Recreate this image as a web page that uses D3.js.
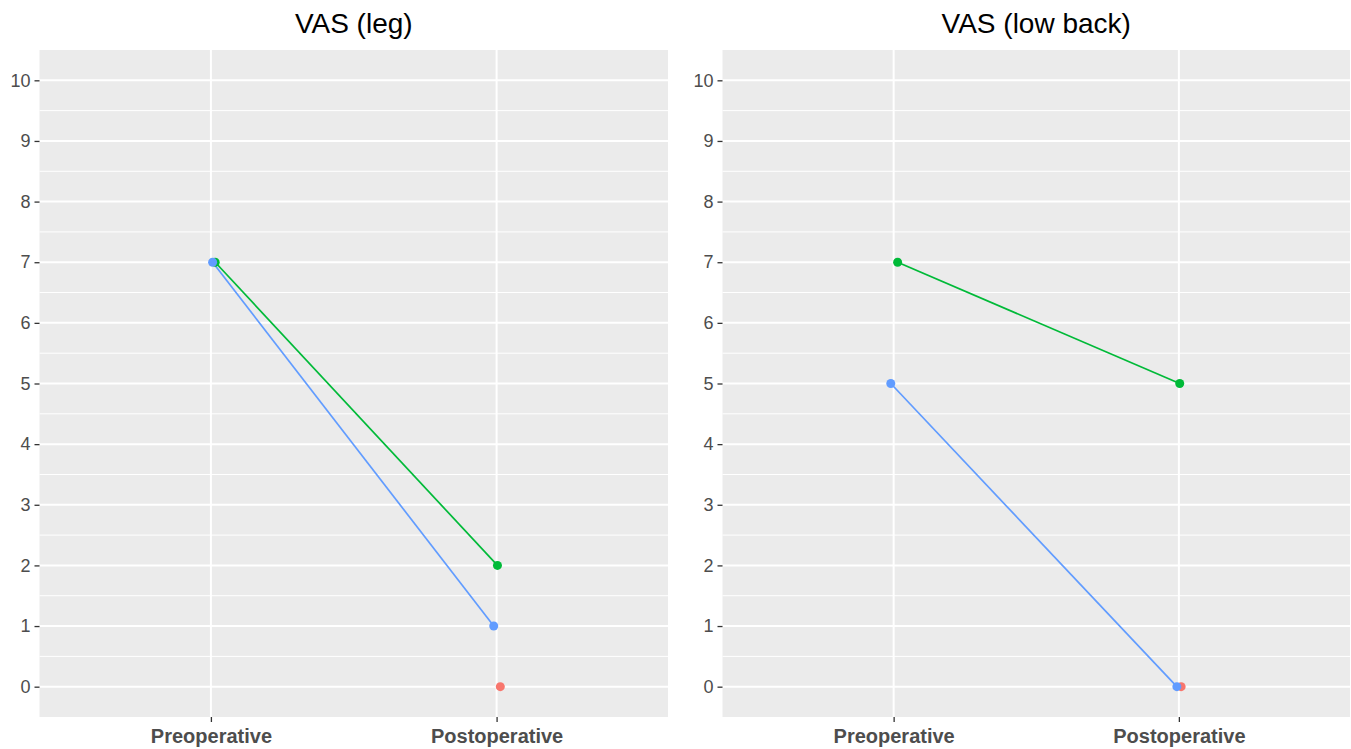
<!DOCTYPE html>
<html>
<head>
<meta charset="utf-8">
<script src="https://cdn.jsdelivr.net/npm/d3@7"></script>
<style>
    body { margin: 0; background: #fff; }
    text { font-family: "Liberation Sans", Arial, sans-serif; }
</style>
</head>
<body>
<div id="chart"></div>
<script>
// data
const timepoints = ['Preoperative', 'Postoperative'];
const subjects = ['A', 'B', 'C'];
const subjectColors = ['#F8766D', '#00BA38', '#619CFF'];
const yTicks = [0, 1, 2, 3, 4, 5, 6, 7, 8, 9, 10];

const panelTitles = ['VAS (leg)', 'VAS (low back)'];
// values per subject: [pre, post], null = missing
const legValues = [[null, 0], [7, 2], [7, 1]];
const backValues = [[null, 0], [7, 5], [5, 0]];
// horizontal jitter (category units) per subject: [pre, post]
const legJitter = [[0, 0.013], [0.015, 0.003], [0.006, -0.01]];
const backJitter = [[0, 0.008], [0.014, 0.003], [-0.01, -0.007]];

const width = 1351;
const height = 749;

const svg = d3.select('#chart')
    .append('svg')
    .attr('width', width)
    .attr('height', height);

const panels = [
    { title: panelTitles[0], values: legValues, jitter: legJitter, x0: 39.5, x1: 668 },
    { title: panelTitles[1], values: backValues, jitter: backJitter, x0: 722.5, x1: 1350 }
];

const panelTop = 50;
const panelBottom = 717;

panels.forEach(p => drawPanel(p));

function drawPanel(p) {
    // discrete scale, ggplot style expand of 0.6 on each side
    const x = d3.scaleLinear()
        .domain([0.4, timepoints.length + 0.6])
        .range([p.x0, p.x1]);
    const y = d3.scaleLinear()
        .domain([-0.5, 10.5])
        .range([panelBottom, panelTop]);

    const g = svg.append('g');

    g.append('rect')
        .attr('x', p.x0)
        .attr('y', panelTop)
        .attr('width', p.x1 - p.x0)
        .attr('height', panelBottom - panelTop)
        .attr('fill', '#EBEBEB');

    // minor grid
    const minor = d3.range(0.5, 10, 1);
    g.append('g')
        .selectAll('line')
        .data(minor)
        .join('line')
        .attr('x1', p.x0).attr('x2', p.x1)
        .attr('y1', d => y(d)).attr('y2', d => y(d))
        .attr('stroke', '#fff')
        .attr('stroke-width', 1);

    // major grid
    g.append('g')
        .selectAll('line')
        .data(yTicks)
        .join('line')
        .attr('x1', p.x0).attr('x2', p.x1)
        .attr('y1', d => y(d)).attr('y2', d => y(d))
        .attr('stroke', '#fff')
        .attr('stroke-width', 2);

    g.append('g')
        .selectAll('line')
        .data(timepoints)
        .join('line')
        .attr('x1', (d, i) => x(i + 1)).attr('x2', (d, i) => x(i + 1))
        .attr('y1', panelTop).attr('y2', panelBottom)
        .attr('stroke', '#fff')
        .attr('stroke-width', 2);

    // y axis
    const yAxis = d3.axisLeft(y).tickValues(yTicks).tickSize(5).tickPadding(4);
    const ya = g.append('g')
        .attr('transform', `translate(${p.x0},0)`)
        .call(yAxis);
    ya.select('.domain').remove();
    ya.selectAll('.tick line').attr('stroke', '#333').attr('stroke-width', 1.3);
    ya.selectAll('.tick text')
        .attr('fill', '#4D4D4D')
        .attr('font-size', 18)
        .style('font-family', '"Liberation Sans", Arial, sans-serif');

    // x axis
    const xAxis = d3.axisBottom(x)
        .tickValues([1, 2])
        .tickFormat(d => timepoints[d - 1])
        .tickSize(5)
        .tickPadding(7);
    const xa = g.append('g')
        .attr('transform', `translate(0,${panelBottom})`)
        .call(xAxis);
    xa.select('.domain').remove();
    xa.selectAll('.tick line').attr('stroke', '#333').attr('stroke-width', 1.3);
    xa.selectAll('.tick text')
        .attr('fill', '#4D4D4D')
        .attr('font-size', 20)
        .attr('font-weight', 'bold')
        .style('font-family', '"Liberation Sans", Arial, sans-serif');

    // title
    g.append('text')
        .attr('x', (p.x0 + p.x1) / 2)
        .attr('y', 33)
        .attr('text-anchor', 'middle')
        .attr('font-size', 28)
        .attr('fill', '#000')
        .text(p.title);

    // lines + points per subject
    const series = subjects.map((s, i) => ({
        color: subjectColors[i],
        pts: timepoints.map((t, j) => ({
            x: j + 1 + p.jitter[i][j],
            v: p.values[i][j]
        })).filter(d => d.v !== null)
    }));

    const line = d3.line()
        .x(d => x(d.x))
        .y(d => y(d.v));

    g.append('g')
        .selectAll('path')
        .data(series.filter(s => s.pts.length > 1))
        .join('path')
        .attr('d', d => line(d.pts))
        .attr('fill', 'none')
        .attr('stroke', d => d.color)
        .attr('stroke-width', 1.7);

    g.append('g')
        .selectAll('g')
        .data(series)
        .join('g')
        .attr('fill', d => d.color)
        .selectAll('circle')
        .data(d => d.pts)
        .join('circle')
        .attr('cx', d => x(d.x))
        .attr('cy', d => y(d.v))
        .attr('r', 4.5);
}
</script>
</body>
</html>
